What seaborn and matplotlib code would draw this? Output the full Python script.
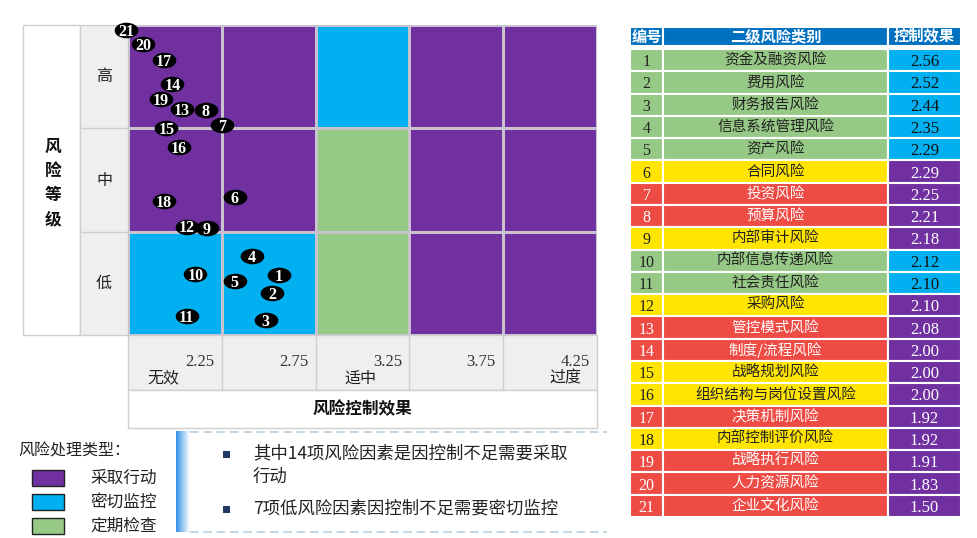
import numpy as np
import pandas as pd
import matplotlib
matplotlib.use("Agg")
import matplotlib.pyplot as plt
import seaborn as sns
from matplotlib.colors import ListedColormap, LinearSegmentedColormap
from matplotlib.patches import Rectangle
from matplotlib.path import Path
from matplotlib.transforms import Affine2D, blended_transform_factory

# ---------------- data ----------------
risk_ids = list(range(1, 22))
risk_names = ["资金及融资风险", "费用风险", "财务报告风险", "信息系统管理风险", "资产风险",
              "合同风险", "投资风险", "预算风险", "内部审计风险", "内部信息传递风险",
              "社会责任风险", "采购风险", "管控模式风险", "制度/流程风险", "战略规划风险",
              "组织结构与岗位设置风险", "决策机制风险", "内部控制评价风险", "战略执行风险",
              "人力资源风险", "企业文化风险"]
control_effect = [2.56, 2.52, 2.44, 2.35, 2.29, 2.29, 2.25, 2.21, 2.18, 2.12, 2.10,
                  2.10, 2.08, 2.00, 2.00, 2.00, 1.92, 1.92, 1.91, 1.83, 1.50]
risk_level = ["低", "低", "低", "低", "低", "中", "高", "高", "中", "低", "低",
              "中", "高", "高", "中", "中", "高", "中", "高", "高", "高"]
# marker positions read from the matrix (x: control effect, y: risk grade 0-3)
map_x = [2.555, 2.519, 2.483, 2.412, 2.319, 2.319, 2.253, 2.165, 2.171, 2.109, 2.063,
         2.063, 2.037, 1.986, 1.955, 2.022, 1.940, 1.940, 1.924, 1.832, 1.740]
map_y = [0.58, 0.41, 0.15, 0.76, 0.52, 1.34, 2.03, 2.18, 1.04, 0.59, 0.18,
         1.05, 2.19, 2.43, 2.00, 1.82, 2.66, 1.30, 2.28, 2.82, 2.95]

effect_ticks = [2.25, 2.75, 3.25, 3.75, 4.25]
effect_tick_labels = ["2.25", "2.75", "3.25", "3.75", "4.25"]
effect_words = ["无效", "适中", "过度"]
level_labels = ["低", "中", "高"]
handle_types = ["采取行动", "密切监控", "定期检查"]
# matrix cell type index (rows: 低, 中, 高; columns: 5 effect bands)
matrix_codes = [[1, 1, 2, 0, 0],
                [0, 0, 2, 0, 0],
                [0, 0, 1, 0, 0]]
table_headers = ["编号", "二级风险类别", "控制效果"]
notes = ["其中14项风险因素是因控制不足需要采取\n行动", "7项低风险因素因控制不足需要密切监控"]

# ---------------- style ----------------
PURPLE, BLUE, GREEN = "#7030A0", "#00B0F0", "#96C986"
YELLOW, RED = "#FFE500", "#EE4B45"
HEAD_BLUE = "#0070C0"
LINE = "#CFCFCF"
handle_colors = [PURPLE, BLUE, GREEN]
level_color = {"低": GREEN, "中": YELLOW, "高": RED}

sns.set_style("white")
plt.rcParams["font.family"] = ["Noto Sans CJK SC", "DejaVu Sans"]
SERIF = ["Liberation Serif", "DejaVu Serif"]

W, H = 977, 538
fig = plt.figure(figsize=(W / 100, H / 100), dpi=100)
fig.patch.set_facecolor("white")

bg = fig.add_axes([0, 0, 1, 1], zorder=0)
bg.set_xlim(0, W)
bg.set_ylim(H, 0)
bg.axis("off")

# ---------------- matrix frame (layout) ----------------
L, R, T, B = 128, 597, 25, 335
bg.add_patch(Rectangle((23, T), 57, B - T, fc="white", ec=LINE, lw=1))
bg.add_patch(Rectangle((80, T), 48, B - T, fc="#EFEFEF", ec=LINE, lw=1))
bg.add_patch(Rectangle((L, B), R - L, 55, fc="#EFEFEF", ec=LINE, lw=1))
bg.add_patch(Rectangle((L, B + 55), R - L, 38, fc="white", ec=LINE, lw=1))
bg.text(53, 183, "风\n险\n等\n级", ha="center", va="center", fontsize=12,
        fontweight="bold", linespacing=1.45, color="#111111")
bg.text((L + R) / 2, 409, "风险控制效果", ha="center", va="center", fontsize=12,
        fontweight="bold", color="#111111")

ax = fig.add_axes([L / W, 1 - B / H, (R - L) / W, (B - T) / H], zorder=2)
x_edges = [effect_ticks[0] - 0.5] + effect_ticks
y_edges = [0, 1, 2, 3]
ax.pcolormesh(x_edges, y_edges, np.array(matrix_codes), cmap=ListedColormap(handle_colors),
              vmin=-0.5, vmax=2.5, edgecolors="#C9C3CF", linewidth=1)
ax.set_xlim(x_edges[0], x_edges[-1])
ax.set_ylim(0, 3)
ax.set_axis_off()

bl_x = blended_transform_factory(ax.transData, ax.transAxes)
bl_y = blended_transform_factory(ax.transAxes, ax.transData)
for yv in [1, 2]:
    ax.plot([-48 / (R - L), 0], [yv, yv], transform=bl_y, color=LINE, lw=1, clip_on=False)
for i, lab in enumerate(level_labels):
    ax.text(-24 / (R - L), i + 0.5, lab, transform=bl_y, ha="center", va="center",
            fontsize=11.5, color="#222222")
for t in effect_ticks[:-1]:
    ax.plot([t, t], [-55 / (B - T), 0], transform=bl_x, color=LINE, lw=1, clip_on=False)
for t, lab in zip(effect_ticks, effect_tick_labels):
    ax.text(t - 0.04, -27 / (B - T), lab, transform=bl_x, ha="right", va="center",
            fontsize=12, family=SERIF, color="#333333")
for t, word, off in zip(effect_ticks[::2], effect_words, [0.31, 0.26, 0.17]):
    ax.text(t - off, -43 / (B - T), word, transform=bl_x, ha="center", va="center",
            fontsize=11.5, color="#222222")

# ---------------- risk markers ----------------
ellipse = Path.unit_circle().transformed(Affine2D().scale(1.0, 0.66))
pts = pd.DataFrame({"id": risk_ids, "x": map_x, "y": map_y})
sns.scatterplot(data=pts, x="x", y="y", marker=ellipse, s=290, color="black",
                edgecolor="black", linewidth=0, legend=False, ax=ax, zorder=5)
ax.collections[-1].set_clip_on(False)
ax.set_xlim(x_edges[0], x_edges[-1])
ax.set_ylim(0, 3)
ax.set_axis_off()
for _, r in pts.iterrows():
    ax.text(r["x"], r["y"], str(int(r["id"])), ha="center", va="center_baseline",
            color="white", fontsize=11.5, fontweight="bold", family=SERIF, zorder=6,
            clip_on=False)

# ---------------- table ----------------
cx = [630, 663, 888, 961]
hy0, hy1 = 27, 46
for j, h in enumerate(table_headers):
    bg.add_patch(Rectangle((cx[j], hy0), cx[j + 1] - cx[j], hy1 - hy0, fc=HEAD_BLUE,
                           ec="white", lw=1.5))
    bg.text((cx[j] + cx[j + 1]) / 2, (hy0 + hy1) / 2, h, ha="center", va="center",
            color="white", fontsize=11, fontweight="bold")
ty0, rh = 49, (517 - 49) / 21
for i in range(21):
    y0 = ty0 + i * rh
    lc = level_color[risk_level[i]]
    ec_col = BLUE if risk_level[i] == "低" else PURPLE
    tc = "white" if lc == RED else "#222222"
    tc2 = "#111111" if ec_col == BLUE else "white"
    for j, col in enumerate([lc, lc, ec_col]):
        bg.add_patch(Rectangle((cx[j], y0), cx[j + 1] - cx[j], rh, fc=col, ec="white", lw=1.5))
    ym = y0 + rh / 2
    bg.text((cx[0] + cx[1]) / 2, ym, str(risk_ids[i]), ha="center", va="center_baseline",
            fontsize=11.5, family=SERIF, color=tc)
    bg.text((cx[1] + cx[2]) / 2, ym, risk_names[i], ha="center", va="center",
            fontsize=10.5, color=tc)
    bg.text((cx[2] + cx[3]) / 2, ym, f"{control_effect[i]:.2f}", ha="center",
            va="center_baseline", fontsize=12, family=SERIF, color=tc2)

# ---------------- legend ----------------
bg.text(18, 451, "风险处理类型：", ha="left", va="center", fontsize=11.5, color="#222222")
for k, (name, col) in enumerate(zip(handle_types, handle_colors)):
    yc = 478 + k * 24
    bg.add_patch(Rectangle((32, yc - 8), 32, 16, fc=col, ec="#222222", lw=1))
    bg.text(90, yc, name, ha="left", va="center", fontsize=12, color="#222222")

# ---------------- notes box ----------------
grad = np.linspace(0, 1, 64).reshape(1, -1)
gcm = LinearSegmentedColormap.from_list("g", ["#2F8FE6", "#9CCBF3", "#FFFFFF"])
bg.imshow(grad, cmap=gcm, extent=(176, 190, 532, 431), aspect="auto", zorder=1)
bg.set_xlim(0, W)
bg.set_ylim(H, 0)
for yl in [432, 532]:
    bg.plot([190, 607], [yl, yl], color="#B5CEE0", lw=1.2, ls=(0, (5, 3)))
for yb in [454, 509]:
    bg.add_patch(Rectangle((223, yb - 3.5), 7, 7, fc="#1F3864", ec="none"))
bg.text(253, 444, notes[0], ha="left", va="top", fontsize=12.5, color="#222222",
        linespacing=1.45)
bg.text(253, 509, notes[1], ha="left", va="center", fontsize=12.5, color="#222222")

fig.savefig("out.png", dpi=100, facecolor="white")
